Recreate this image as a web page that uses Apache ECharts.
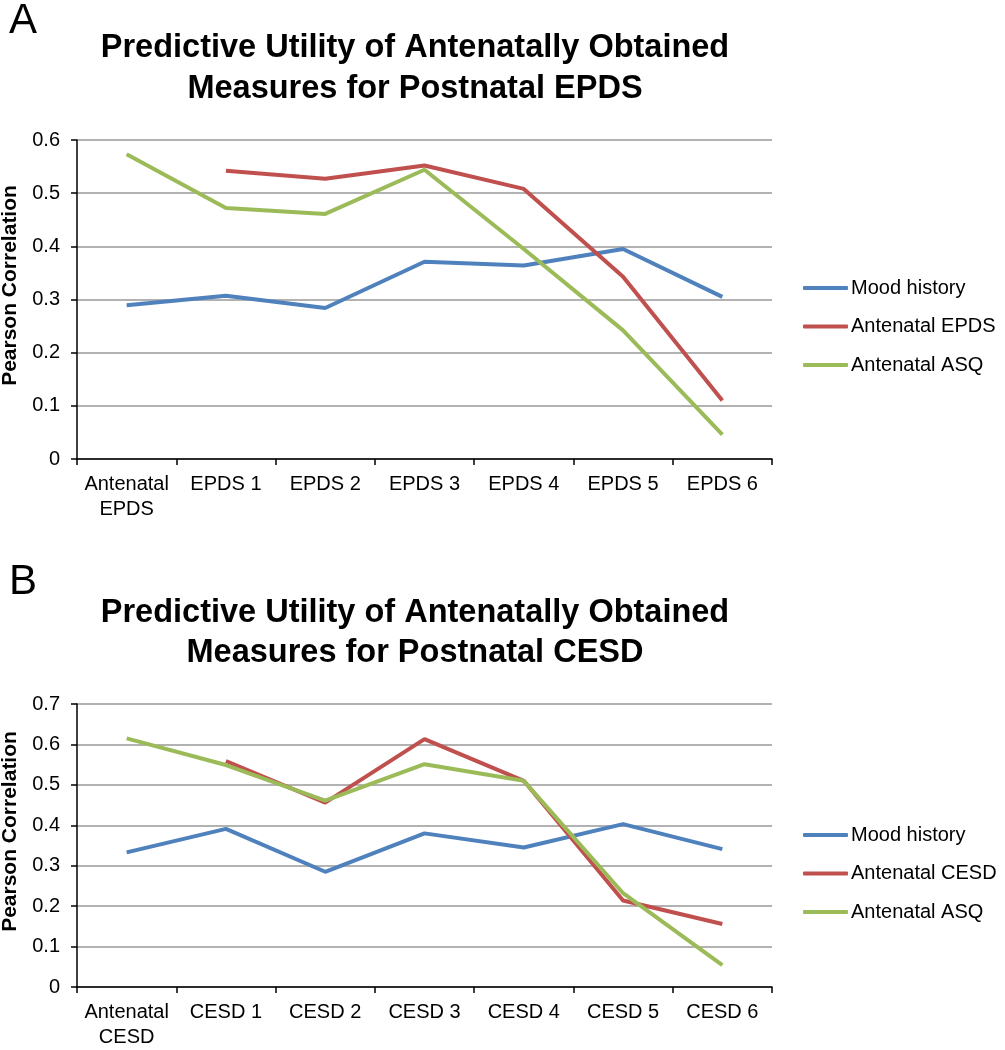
<!DOCTYPE html>
<html><head><meta charset="utf-8">
<script src="https://cdn.jsdelivr.net/npm/echarts@6/dist/echarts.min.js"></script>
<style>html,body{margin:0;padding:0;background:#fff}#c{width:1005px;height:1050px}</style>
</head><body><div id="c"></div>
<script>
const catsA = ['Antenatal\nEPDS','EPDS 1','EPDS 2','EPDS 3','EPDS 4','EPDS 5','EPDS 6'];
const moodA = [0.289,0.307,0.284,0.371,0.364,0.395,0.305];
const epdsA = [null,0.542,0.527,0.552,0.508,0.343,0.110];
const asqA  = [0.573,0.472,0.461,0.544,0.395,0.242,0.046];

const catsB = ['Antenatal\nCESD','CESD 1','CESD 2','CESD 3','CESD 4','CESD 5','CESD 6'];
const moodB = [0.333,0.391,0.285,0.380,0.345,0.403,0.341];
const cesdB = [null,0.559,0.456,0.613,0.510,0.214,0.156];
const asqB  = [0.615,0.549,0.461,0.551,0.510,0.232,0.054];

const yTicksA = {min:0,max:0.6,interval:0.1};
const yTicksB = {min:0,max:0.7,interval:0.1};

const BLUE='#4F81BD', RED='#C0504D', GREEN='#9BBB59';
const FONT='Liberation Sans, Arial, sans-serif';

function xAx(idx, cats){
  return {type:'category', gridIndex:idx, data:cats, boundaryGap:true,
    axisLine:{lineStyle:{color:'#000',width:1.5}},
    axisTick:{show:true,length:6,lineStyle:{color:'#000',width:1.5}},
    axisLabel:{color:'#000',fontSize:20,fontFamily:FONT,margin:13,lineHeight:25,interval:0}};
}
function yAx(idx, t){
  return {type:'value', gridIndex:idx, min:t.min, max:t.max, interval:t.interval,
    name:'Pearson Correlation', nameLocation:'middle', nameRotate:90, nameGap:56,
    nameTextStyle:{color:'#000',fontSize:21,fontWeight:'bold',fontFamily:FONT,padding:[0,0,0,28]},
    axisLine:{show:true,lineStyle:{color:'#000',width:1.5}},
    axisTick:{show:true,length:6,lineStyle:{color:'#000',width:1.5}},
    axisLabel:{color:'#000',fontSize:20,fontFamily:FONT,margin:17,formatter:v=>String(+v.toFixed(1))},
    splitLine:{show:true,lineStyle:{color:'#999',width:1.5}}};
}
function ser(name, data, color, idx){
  return {type:'line', name, data, xAxisIndex:idx, yAxisIndex:idx,
    showSymbol:false, symbol:'none', connectNulls:false,
    lineStyle:{color, width:4}, itemStyle:{color}};
}
function legend(names, top){
  return {data:names, orient:'vertical', left:798, top, itemWidth:45, itemHeight:4,
    itemGap:18.5, icon:'roundRect',
    textStyle:{color:'#000',fontSize:20,fontFamily:FONT,padding:[0,0,0,-2]}};
}

const chart = echarts.init(document.getElementById('c'));
chart.setOption({
  animation:false,
  backgroundColor:'#fff',
  title:[
    {text:'A', left:4, top:-5, textStyle:{fontSize:42,fontWeight:'normal',color:'#000',fontFamily:FONT}},
    {text:'Predictive Utility of Antenatally Obtained\nMeasures for Postnatal EPDS', left:410, top:23, textAlign:'center',
      textStyle:{fontSize:32.5,fontWeight:'bold',color:'#000',fontFamily:FONT,lineHeight:41}},
    {text:'B', left:4, top:556, textStyle:{fontSize:42,fontWeight:'normal',color:'#000',fontFamily:FONT}},
    {text:'Predictive Utility of Antenatally Obtained\nMeasures for Postnatal CESD', left:410, top:588, textAlign:'center',
      textStyle:{fontSize:32.5,fontWeight:'bold',color:'#000',fontFamily:FONT,lineHeight:40}}
  ],
  legend:[
    legend(['Mood history','Antenatal EPDS','Antenatal ASQ'], 273),
    legend(['Mood history ','Antenatal CESD','Antenatal ASQ '], 820)
  ],
  grid:[
    {left:77, top:140, width:695, height:319, containLabel:false, outerBoundsMode:'none'},
    {left:77, top:704, width:695, height:283, containLabel:false, outerBoundsMode:'none'}
  ],
  xAxis:[xAx(0,catsA), xAx(1,catsB)],
  yAxis:[yAx(0,yTicksA), yAx(1,yTicksB)],
  series:[
    ser('Mood history', moodA, BLUE, 0),
    ser('Antenatal EPDS', epdsA, RED, 0),
    ser('Antenatal ASQ', asqA, GREEN, 0),
    ser('Mood history ', moodB, BLUE, 1),
    ser('Antenatal CESD', cesdB, RED, 1),
    ser('Antenatal ASQ ', asqB, GREEN, 1)
  ]
});
</script></body></html>
